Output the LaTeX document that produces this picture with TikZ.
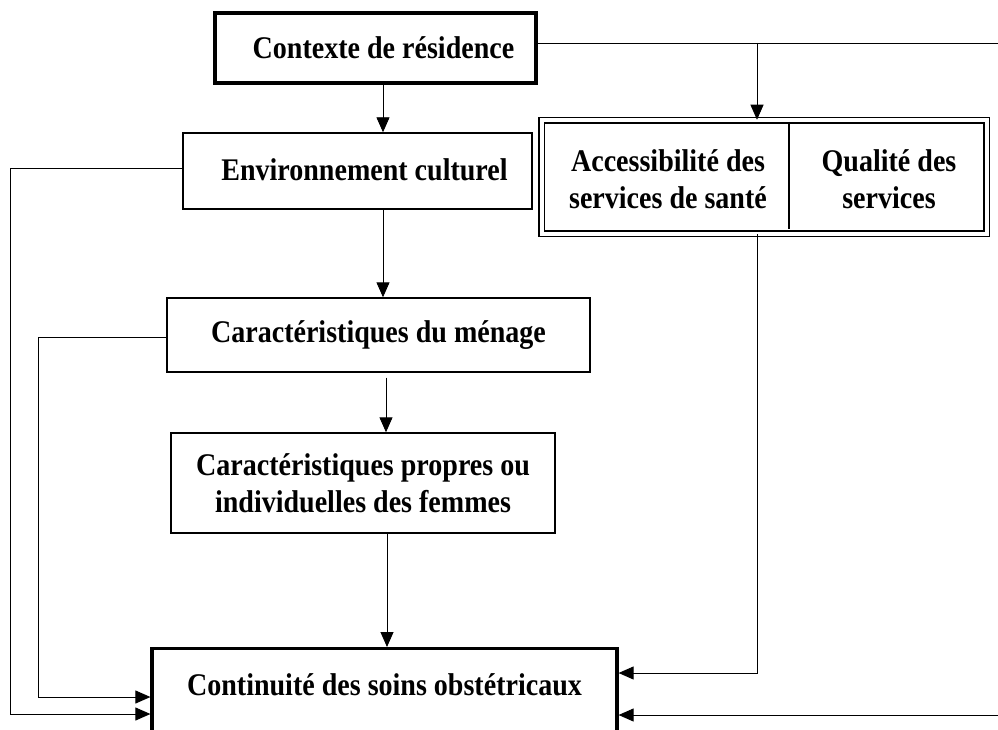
\documentclass[tikz,border=0pt]{standalone}
\usepackage{fontspec}
\setmainfont{Liberation Serif}[FakeStretch=0.89]
\usetikzlibrary{arrows.meta,calc}
\begin{document}
\begin{tikzpicture}[x=1pt,y=-1pt,
  font=\fontsize{31.5}{37}\selectfont\bfseries,
  box/.style={draw, line width=1.4pt, inner sep=0pt, align=center},
  thickbox/.style={draw, line width=3.2pt, inner sep=0pt, align=center},
  conn/.style={line width=0.9pt},
  arr/.style={line width=0.9pt, -{Triangle[length=15pt,width=13pt]}},
  lbl/.style={inner sep=0pt, align=center}]
\useasboundingbox (0,0) rectangle (998,730);
% nodes
\node[thickbox, minimum width=321pt, minimum height=70pt] (ctx) at (375.5,48) {\hspace*{16pt}Contexte de résidence};
\node[box, minimum width=349pt, minimum height=76pt] (env) at (357.5,171) {\hspace*{14pt}\raisebox{3pt}{Environnement culturel}};
\node[box, minimum width=423pt, minimum height=74pt] (men) at (378.5,335) {\raisebox{4pt}{Caractéristiques du ménage}};
\node[box, minimum width=384pt, minimum height=100pt] (ind) at (363,483) {Caractéristiques propres ou\\individuelles des femmes};
\node[draw, line width=1.5pt, double, double distance=4pt, minimum width=445pt, minimum height=113pt, inner sep=0pt] (svc) at (764,177) {};
\node[lbl] (acc) at (668,179) {Accessibilité des\\services de santé};
\node[lbl] (qual) at (889,179) {Qualité des\\services};
\draw[line width=1.4pt] (789,122) -- (789,229);
\node[thickbox, minimum width=465pt, minimum height=130pt, anchor=north] (cont) at (384.5,647) {};
\node[lbl] (contl) at (384.5,685) {Continuité des soins obstétricaux};
% coordinates
\coordinate (rtop) at (1003,43);
\coordinate (rbot) at (1003,715);
\coordinate (br) at (757,43);
\coordinate (bd) at (757,673);
\coordinate (l1) at (10,168);
\coordinate (l1b) at (10,714);
\coordinate (l2) at (38,337);
\coordinate (l2b) at (38,697);
% connectors
\draw[conn] (ctx.east |- rtop) -- (rtop) -- (rbot);
\draw[arr] (rbot) -- (cont.east |- rbot);
\draw[arr] (br) -- (br |- svc.north);
\draw[arr] (br |- svc.south) -- (bd) -- (cont.east |- bd);
\draw[arr] (ctx.south -| 383,0) -- (env.north -| 383,0);
\draw[arr] (env.south -| 383,0) -- (men.north -| 383,0);
\draw[arr] ($(men.south -| 386,0)+(0,5)$) -- (ind.north -| 386,0);
\draw[arr] (ind.south -| 387,0) -- (cont.north -| 387,0);
\draw[arr] (env.west |- l1) -- (l1) -- (l1b) -- (cont.west |- l1b);
\draw[arr] (men.west |- l2) -- (l2) -- (l2b) -- (cont.west |- l2b);
\end{tikzpicture}
\end{document}
